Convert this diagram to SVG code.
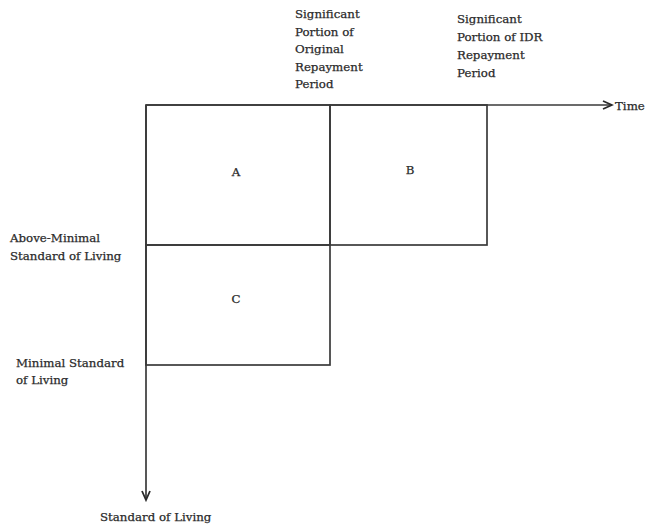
<svg xmlns="http://www.w3.org/2000/svg" width="645" height="525" viewBox="0 0 645 525">
<defs>
<style>
.t{font-family:"DejaVu Serif","Liberation Serif",serif;font-size:11.8px;fill:#2a2a2a;stroke:#2a2a2a;stroke-width:0.25;}
.c{text-anchor:middle;}
.ln{stroke:#3a3a3a;stroke-width:1.7;fill:none;}
</style>
<marker id="ah" markerWidth="12" markerHeight="10" refX="10" refY="5" orient="auto" markerUnits="userSpaceOnUse">
<path d="M1,1 L10,5 L1,9" fill="none" stroke="#2a2a2a" stroke-width="1.8"/>
</marker>
</defs>
<rect width="645" height="525" fill="#fff"/>
<g id="connectors">
<line class="ln" x1="146" y1="105" x2="612" y2="105" marker-end="url(#ah)"/>
<line class="ln" x1="146" y1="105" x2="146" y2="500" marker-end="url(#ah)"/>
</g>
<g id="regionA">
<rect class="ln" x="146" y="105" width="184" height="140"/>
<text class="t c" x="236" y="176">A</text>
</g>
<g id="regionB">
<rect class="ln" x="330" y="105" width="157" height="140"/>
<text class="t c" x="410" y="174">B</text>
</g>
<g id="regionC">
<rect class="ln" x="146" y="245" width="184" height="120"/>
<text class="t c" x="236" y="303">C</text>
</g>
<g id="labels">
<text class="t"><tspan x="295" y="18">Significant</tspan><tspan x="295" y="36">Portion of</tspan><tspan x="295" y="53">Original</tspan><tspan x="295" y="71">Repayment</tspan><tspan x="295" y="88">Period</tspan></text>
<text class="t"><tspan x="457" y="23">Significant</tspan><tspan x="457" y="41">Portion of IDR</tspan><tspan x="457" y="59">Repayment</tspan><tspan x="457" y="77">Period</tspan></text>
<text class="t" x="615" y="110">Time</text>
<text class="t"><tspan x="10" y="242">Above-Minimal</tspan><tspan x="10" y="260">Standard of Living</tspan></text>
<text class="t"><tspan x="16" y="367">Minimal Standard</tspan><tspan x="16" y="384">of Living</tspan></text>
<text class="t" x="100" y="521">Standard of Living</text>
</g>
</svg>
